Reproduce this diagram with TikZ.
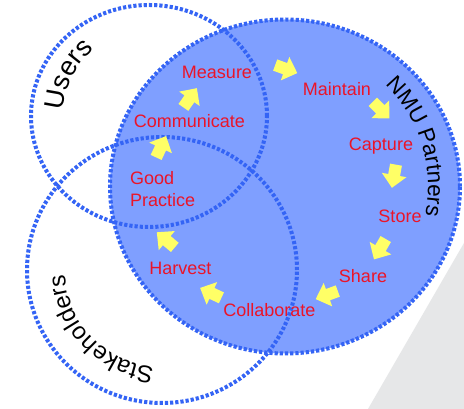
\documentclass[tikz,border=0pt]{standalone}
\usepackage{fontspec}
\setmainfont{Liberation Sans}
\usetikzlibrary{decorations.text}
\definecolor{dotblue}{RGB}{52,100,245}
\definecolor{bigfill}{RGB}{127,159,255}
\definecolor{labelred}{RGB}{235,20,40}
\definecolor{arrowyellow}{RGB}{255,255,102}
\definecolor{pagegray}{RGB}{230,231,232}
\newcommand\redfont{\fontsize{18}{22}\selectfont}
\newcommand\usersfont{\fontsize{27}{29}\selectfont}
\newcommand\stakefont{\fontsize{24}{26}\selectfont}
\newcommand\nmufont{\fontsize{22.5}{25}\selectfont}
\tikzset{
  ring/.style={draw=dotblue, line width=4pt, dash pattern=on 3.2pt off 2pt},
  lbl/.style={text=labelred, font=\redfont, inner sep=0pt},
  yarrow/.pic={\fill[arrowyellow] (-11.5,-6) -- (-1,-6) -- (-1,-12.5) -- (12,0) -- (-1,12.5) -- (-1,6) -- (-11.5,6) -- cycle;}
}
\begin{document}
\begin{tikzpicture}[x=1pt,y=1pt]
\useasboundingbox (0,0) rectangle (464,409);
\fill[white] (0,0) rectangle (464,409);
% page corner
\fill[pagegray] (368,0) -- (464,166) -- (464,0) -- cycle;
% big circle fill
\fill[bigfill] (285,222.5) ellipse[x radius=175pt, y radius=167pt];
% outlines
\path[ring] (285,222.5) ellipse[x radius=175pt, y radius=167pt];
\path[ring] (149,293) ellipse[x radius=118pt, y radius=111pt];
\path[ring] (162,139) ellipse[x radius=135pt, y radius=133pt];
% curved group labels
\path[decorate, decoration={text along path, text={|\usersfont|Users}, text align=center}]
  (149,293) ++(200:86pt) arc[start angle=200, end angle=106, radius=86pt];
\path[decorate, decoration={text along path, text={|\stakefont|Stakeholders}, text align=center}]
  (162,139) ++(290:97pt) arc[start angle=290, end angle=158, radius=97pt];
\path[decorate, decoration={text along path, text={|\nmufont|NMU Partners}, text align=center}]
  (285,222.5) ++(70:143pt) arc[start angle=70, end angle=-36, radius=143pt];
% step labels
\node[lbl] (measure) at (217,337) {Measure};
\node[lbl] (maintain) at (337,320) {Maintain};
\node[lbl] (communicate) at (189.5,288) {Communicate};
\node[lbl] (capture) at (381,263) {Capture};
\node[lbl] (store) at (400,193) {Store};
\node[lbl] (share) at (363,133) {Share};
\node[lbl] (collaborate) at (269.5,99) {Collaborate};
\node[lbl] (harvest) at (180.5,141) {Harvest};
\node[lbl, align=left, anchor=west] (goodpractice) at (130,220) {Good\\Practice};
% yellow block arrows
\pic[rotate=65] at (161,262) {yarrow};
\pic[rotate=55] at (190,311) {yarrow};
\pic[rotate=-20] at (286,340) {yarrow};
\pic[rotate=-45] at (381,299) {yarrow};
\pic[rotate=-100] at (394,233) {yarrow};
\pic[rotate=-120] at (380,160) {yarrow};
\pic[rotate=200] at (327,114) {yarrow};
\pic[rotate=155] at (211,116) {yarrow};
\pic[rotate=140] at (166,169) {yarrow};
\end{tikzpicture}
\end{document}
